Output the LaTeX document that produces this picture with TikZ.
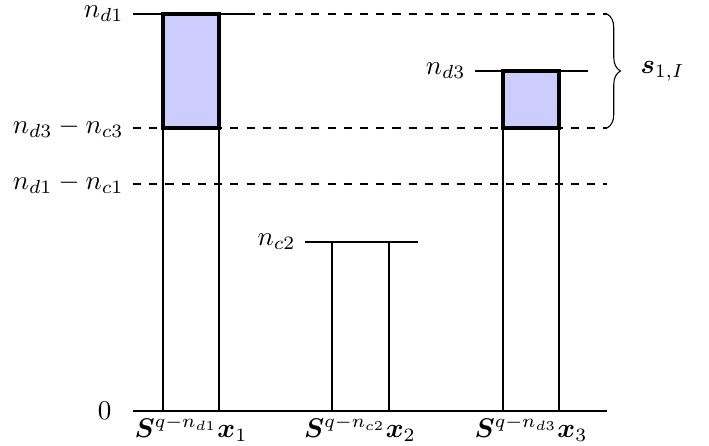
\documentclass[tikz,border=0pt]{standalone}
\usepackage{amsmath,bm}
\usetikzlibrary{decorations.pathreplacing}
\tikzstyle{bar}=[draw,line width=1pt]
\tikzstyle{blk}=[draw,line width=1.2pt,fill=blue!20]
\tikzstyle{lvl}=[line width=1pt,dashed]
\tikzstyle{lab}=[inner sep=3.3pt]

\begin{document}
\begin{tikzpicture}[x=0.37pt,y=-0.37pt]
\useasboundingbox (0,0) rectangle (709,446);
% axis
\coordinate (O) at (133,411);
\coordinate (E) at (607,411);
\draw[bar] (O) -- (E);
\node[lab, left=4.5pt] (z) at (O) {$0$};
% dashed levels
\coordinate (L1) at (133,14);   \coordinate (R1) at (607,14);
\coordinate (L2) at (133,128);  \coordinate (R2) at (607,128);
\coordinate (L3) at (133,184);  \coordinate (R3) at (607,184);
\draw[lvl] (L1) -- (R1);
\draw[lvl] (L2) -- (R2);
\draw[lvl] (L3) -- (R3);
\node[lab, left] (nd1) at (L1) {$n_{d1}$};
\node[lab, left] (nd3c3) at (L2) {$n_{d3}-n_{c3}$};
\node[lab, left] (nd1c1) at (L3) {$n_{d1}-n_{c1}$};
% bar 1
\path[blk] (163,14) rectangle (219,128);
\draw[bar] (163,411) -- (163,14);
\draw[bar] (219,411) -- (219,14);
\draw[bar] (L1) -- (252,14);
% bar 2
\draw[bar] (332,411) -- (332,242);
\draw[bar] (389,411) -- (389,242);
\coordinate (T2) at (305,242);
\draw[bar] (T2) -- (418,242);
\node[lab, left] (nc2) at (T2) {$n_{c2}$};
% bar 3
\path[blk] (503,71) rectangle (559,128);
\draw[bar] (503,411) -- (503,71);
\draw[bar] (559,411) -- (559,71);
\coordinate (T3) at (475,71);
\draw[bar] (T3) -- (588,71);
\node[lab, left] (nd3) at (T3) {$n_{d3}$};
% bottom labels
\node[below, inner sep=1.5pt] (x1) at (191,411) {$\bm{S}^{q-n_{d1}}\bm{x}_1$};
\node[below, inner sep=1.5pt] (x2) at (360,411) {$\bm{S}^{q-n_{c2}}\bm{x}_2$};
\node[below, inner sep=1.5pt] (x3) at (531,411) {$\bm{S}^{q-n_{d3}}\bm{x}_3$};
% brace
\draw[decorate,decoration={brace,amplitude=5pt}] (R1) -- (R2);
\node[right] (s) at (631,71) {$\bm{s}_{1,I}$};
\end{tikzpicture}
\end{document}
